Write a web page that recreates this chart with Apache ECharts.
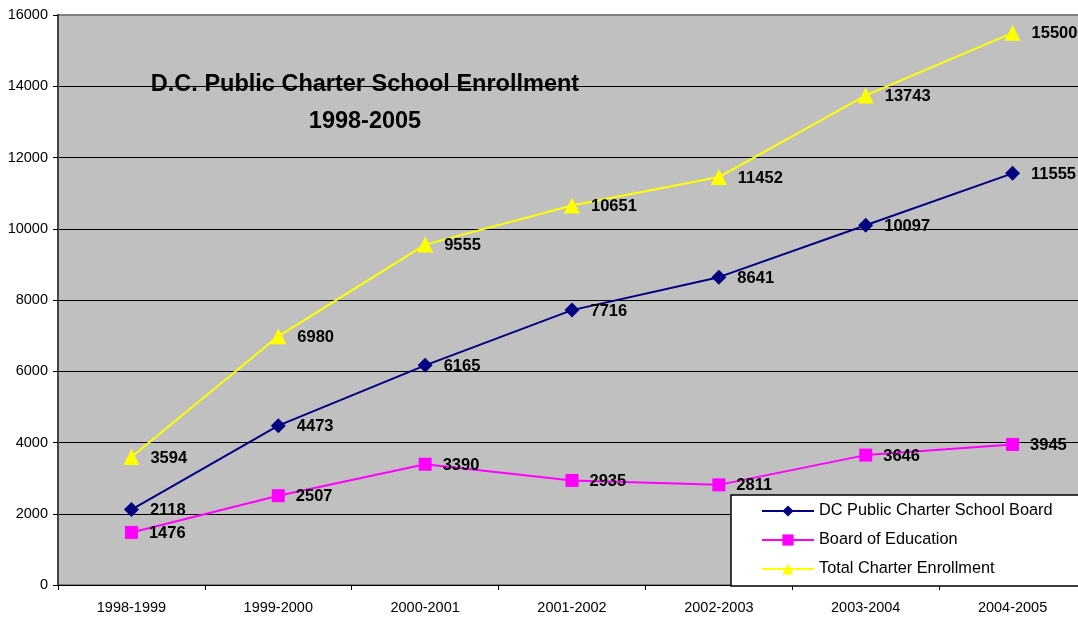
<!DOCTYPE html>
<html><head><meta charset="utf-8">
<script src="https://cdn.jsdelivr.net/npm/echarts@6/dist/echarts.min.js"></script>
<style>html,body{margin:0;padding:0;background:#fff;overflow:hidden}#c{width:1090px;height:618px}</style>
</head><body><div id="c"></div>
<script>
const categories = ['1998-1999','1999-2000','2000-2001','2001-2002','2002-2003','2003-2004','2004-2005'];
const dcpcsb = [2118, 4473, 6165, 7716, 8641, 10097, 11555];
const boe = [1476, 2507, 3390, 2935, 2811, 3646, 3945];
const total = [3594, 6980, 9555, 10651, 11452, 13743, 15500];
const yTicks = [0, 2000, 4000, 6000, 8000, 10000, 12000, 14000, 16000];

const chart = echarts.init(document.getElementById('c'));
const lbl = {show: true, position: 'right', distance: 11, color: '#000', fontWeight: 'bold', fontSize: 16.5, fontFamily: 'Liberation Sans, Arial', offset: [0, 1]};
chart.setOption({
  animation: false,
  backgroundColor: '#fff',
  title: {
    text: 'D.C. Public Charter School Enrollment\n1998-2005',
    left: 360, top: 61, textAlign: 'center',
    textStyle: {fontFamily: 'Liberation Sans, Arial', fontWeight: 'bold', fontSize: 23.5, lineHeight: 37, color: '#000'}
  },
  legend: {
    orient: 'vertical', left: 731, top: 495,
    backgroundColor: '#fff', borderColor: '#000', borderWidth: 1.5, borderRadius: 0,
    padding: [8, 40, 9, 30], itemWidth: 52, itemHeight: 14, itemGap: 13,
    textStyle: {fontFamily: 'Liberation Sans, Arial', fontSize: 16.3, color: '#000'},
    data: ['DC Public Charter School Board', 'Board of Education', 'Total Charter Enrollment']
  },
  grid: {left: 58, right: 4, top: 15, bottom: 33, show: true, backgroundColor: '#C0C0C0', borderColor: '#808080', borderWidth: 2},
  xAxis: {
    type: 'category', data: categories, boundaryGap: true,
    axisLine: {lineStyle: {color: '#000', width: 1}},
    axisTick: {show: true, length: 5, lineStyle: {color: '#000'}},
    axisLabel: {fontFamily: 'Liberation Sans, Arial', fontSize: 14.5, color: '#000', margin: 15}
  },
  yAxis: {
    type: 'value', min: yTicks[0], max: yTicks[yTicks.length - 1], interval: yTicks[1] - yTicks[0],
    axisLine: {show: true, lineStyle: {color: '#444', width: 2}},
    axisTick: {show: true, length: 5, lineStyle: {color: '#000'}},
    axisLabel: {fontFamily: 'Liberation Sans, Arial', fontSize: 14.5, color: '#000', margin: 10, formatter: v => String(v)},
    splitLine: {showMaxLine: false, lineStyle: {color: '#000', width: 1}}
  },
  series: [
    {name: 'DC Public Charter School Board', type: 'line', data: dcpcsb, symbol: 'diamond', symbolSize: 15,
     itemStyle: {color: '#000080'}, lineStyle: {color: '#000080', width: 2}, label: lbl},
    {name: 'Board of Education', type: 'line', data: boe, symbol: 'rect', symbolSize: 13,
     itemStyle: {color: '#FF00FF'}, lineStyle: {color: '#FF00FF', width: 2}, label: lbl},
    {name: 'Total Charter Enrollment', type: 'line', data: total, symbol: 'triangle', symbolSize: 16,
     itemStyle: {color: '#FFFF00'}, lineStyle: {color: '#FFFF00', width: 2}, label: lbl}
  ]
});
</script></body></html>
